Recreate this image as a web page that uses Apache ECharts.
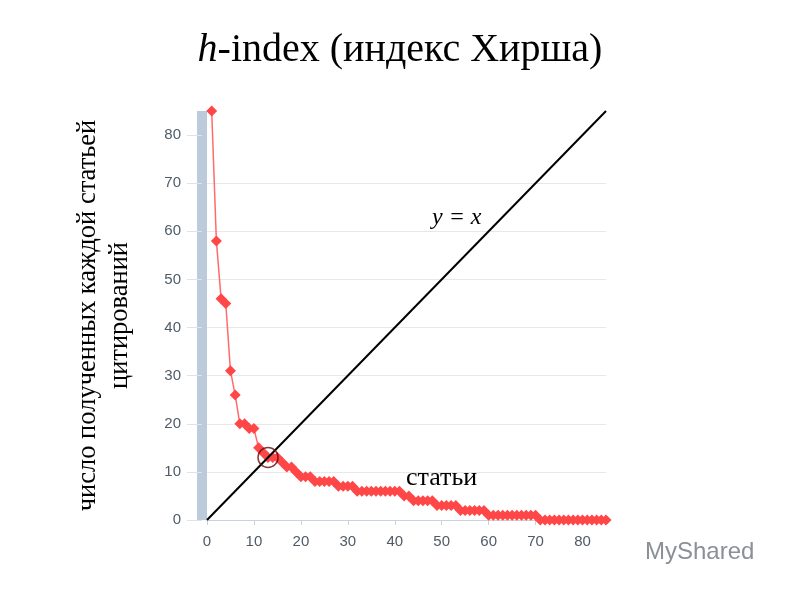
<!DOCTYPE html>
<html>
<head>
<meta charset="utf-8">
<script src="https://cdn.jsdelivr.net/npm/echarts@6/dist/echarts.min.js"></script>
<style>html,body{margin:0;padding:0;background:#fff}#c{width:800px;height:600px}</style>
</head>
<body>
<div id="c"></div>
<script>
// Citation counts of each paper, sorted descending (paper rank 1..85)
const citations = [85,58,46,45,31,26,20,20,19,19,15,14,13,13,13,12,11,11,10,9,9,9,8,8,8,8,8,7,7,7,7,6,6,6,6,6,6,6,6,6,6,5,5,4,4,4,4,4,3,3,3,3,3,2,2,2,2,2,2,1,1,1,1,1,1,1,1,1,1,1,0,0,0,0,0,0,0,0,0,0,0,0,0,0,0];
const ranks = citations.map((_, i) => i + 1);
const diagonal = [[0, 0], [85, 85]];
const hIndex = 13;
const xTicks = [0, 10, 20, 30, 40, 50, 60, 70, 80];
const yTicks = [0, 10, 20, 30, 40, 50, 60, 70, 80];

const chart = echarts.init(document.getElementById('c'));
const labelColor = '#4f5b66';
chart.setOption({
  animation: false,
  backgroundColor: '#fff',
  title: {
    text: '{i|h}-index (индекс Хирша)',
    left: 'center',
    top: 25,
    textStyle: {
      fontFamily: 'Liberation Serif',
      fontSize: 40,
      fontWeight: 'normal',
      color: '#000',
      rich: { i: { fontFamily: 'Liberation Serif', fontStyle: 'italic', fontSize: 40, color: '#000' } }
    }
  },
  grid: { left: 207, right: 194, top: 111, bottom: 80 },
  xAxis: {
    type: 'value', min: 0, max: 85, interval: 10,
    axisLine: { show: true, onZero: false, lineStyle: { color: '#c8d2dc', width: 1 } },
    axisTick: { show: true, length: 5, lineStyle: { color: '#c8d2dc' }, customValues: xTicks },
    axisLabel: { color: labelColor, fontFamily: 'Liberation Sans', fontSize: 15, margin: 14, customValues: xTicks },
    splitLine: { show: false }
  },
  yAxis: {
    type: 'value', min: 0, max: 85, interval: 10,
    offset: 5,
    name: 'число полученных каждой статьей\nцитирований',
    nameLocation: 'middle',
    nameRotate: 90,
    nameGap: 66,
    nameTextStyle: { fontFamily: 'Liberation Serif', fontSize: 26.5, color: '#000', lineHeight: 32, align: 'center' },
    axisLine: { show: true, onZero: false, lineStyle: { color: '#bccbdc', width: 10, cap: 'butt' } },
    axisTick: { show: true, length: 15, lineStyle: { color: '#dfe3e8' }, customValues: yTicks },
    axisLabel: { color: labelColor, fontFamily: 'Liberation Sans', fontSize: 15, margin: 21, customValues: yTicks },
    splitLine: { show: true, showMaxLine: false, lineStyle: { color: '#e8e8e8' } }
  },
  series: [
    {
      type: 'line',
      data: diagonal,
      symbol: 'none',
      lineStyle: { color: '#000', width: 2 },
      z: 3
    },
    {
      type: 'line',
      data: ranks.map((r, i) => [r, citations[i]]),
      symbol: 'diamond',
      symbolSize: 11,
      itemStyle: { color: '#ff4747' },
      lineStyle: { color: '#ff6b6b', width: 1.5 },
      z: 2
    },
    {
      type: 'scatter',
      data: [[hIndex, hIndex]],
      symbol: 'circle',
      symbolSize: 20,
      itemStyle: { color: 'rgba(0,0,0,0)', borderColor: '#6a0a0a', borderWidth: 1.5 },
      z: 4
    }
  ],
  graphic: [
    { type: 'text', left: 432, top: 206, style: { text: 'y = x', font: 'italic 24px "Liberation Serif"', fill: '#000' } },
    { type: 'text', left: 406, top: 465, style: { text: 'статьи', font: '26px "Liberation Serif"', fill: '#000' } },
    { type: 'text', left: 645, top: 540, style: { text: 'MyShared', font: '24px "Liberation Sans"', fill: '#8a9096' } }
  ]
});
</script>
</body>
</html>
